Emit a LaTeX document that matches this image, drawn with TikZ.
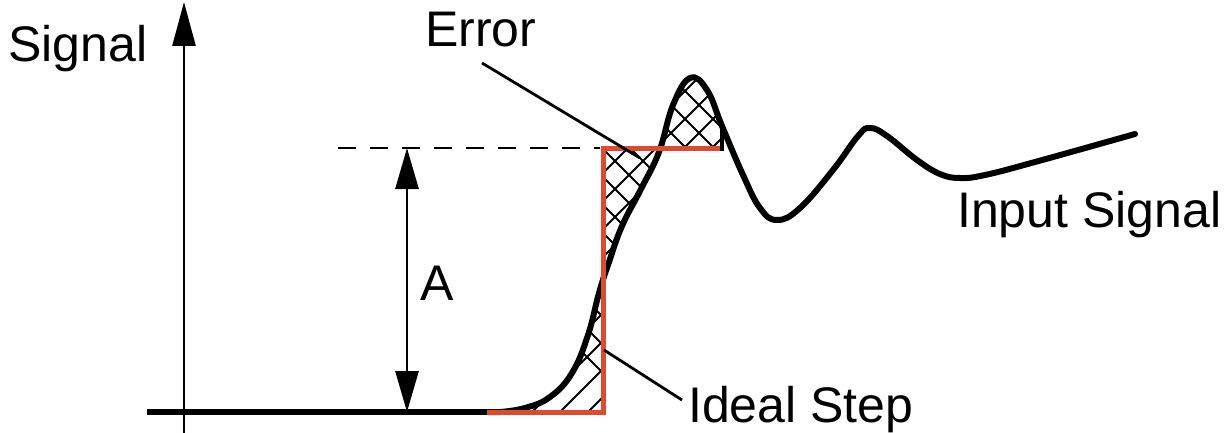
\documentclass[tikz,border=0pt]{standalone}
\usepackage{fontspec}
\setmainfont{Liberation Sans}
\usetikzlibrary{arrows.meta}
\definecolor{stepred}{RGB}{222,74,46}
\begin{document}
\begin{tikzpicture}[x=1pt,y=-1pt,
  lbl/.style={font=\fontsize{50}{60}\selectfont, inner sep=0pt, anchor=base west},
  sigline/.style={line width=6pt, line join=round, line cap=round},
  stepline/.style={stepred, line width=5pt, line join=miter},
  hatchline/.style={line width=2pt},
  leader/.style={line width=2.8pt},
  bigtip/.style={-{Triangle[length=44pt,width=23pt]}},
  dimtip/.style={{Triangle[length=41pt,width=23pt]}-{Triangle[length=41pt,width=23pt]}}]
\useasboundingbox (0,0) rectangle (1230,433);

% coordinates
\coordinate (axB) at (184,433);
\coordinate (axT) at (184,2);
\coordinate (base0) at (147,412);
\coordinate (base1) at (487,412);
\coordinate (st0) at (487,412);
\coordinate (st1) at (603,412);
\coordinate (st2) at (603,148);
\coordinate (st3) at (720,148);
\coordinate (tk0) at (722,124);
\coordinate (tk1) at (722,151);
\coordinate (ds0) at (338,148);
\coordinate (ds1) at (600,148);
\coordinate (aT) at (407,148);
\coordinate (aB) at (407,412);
\coordinate (eA) at (482,63);
\coordinate (eB) at (640,158);
\coordinate (iA) at (604,350);
\coordinate (iB) at (682,400);

% hatch
\begin{scope}
\clip plot[smooth,tension=0.7] coordinates {(500,412) (525,408) (550,397) (572,373) (588,335) (599,293) (609,262) (622,226) (641,189) (659,152) (673,105) (690,78) (707,90) (722,126)}
  -- (722,148) -- (603,148) -- (603,412) -- cycle;
\foreach \k in {0,...,22}{
  \draw[hatchline] ({300+28*\k},420) -- ++(350,-350);
  \draw[hatchline] ({300+28*\k},70) -- ++(350,350);
}
\end{scope}

% axis and baseline
\draw[line width=2.8pt, bigtip] (axB) -- (axT);
\draw[line width=6pt] (base0) -- (base1);

% dashed level
\draw[line width=2.8pt, dash pattern=on 18pt off 14pt] (ds0) -- (ds1);

% amplitude arrow
\draw[line width=2.8pt, dimtip] (aT) -- (aB);

% signal curve
\draw[sigline] (487,412) -- plot[smooth,tension=0.7] coordinates {(500,412) (525,408) (550,397) (572,373) (588,335) (599,293) (609,262) (622,226) (641,189) (659,152) (673,105) (690,78) (707,90) (722,126) (743,175) (760,208) (777,220) (800,208) (833,170) (858,136) (870,128) (887,136) (917,160) (940,174) (960,178) (985,175) (1035,162) (1135,134)};

% ideal step
\draw[stepline] (st0) -- (st1) -- (st2) -- (st3);
\draw[line width=4.5pt] (tk0) -- (tk1);

% leaders
\draw[leader] (eA) -- (eB);
\draw[leader] (iA) -- (iB);

% labels
\node[lbl] (sig) at (8,62) {Signal};
\node[lbl] (err) at (425,47) {Error};
\node[lbl] (inp) at (957,227) {Input Signal};
\node[lbl] (ide) at (688,422) {Ideal Step};
\node[lbl] (amp) at (420,300) {A};
\end{tikzpicture}
\end{document}
